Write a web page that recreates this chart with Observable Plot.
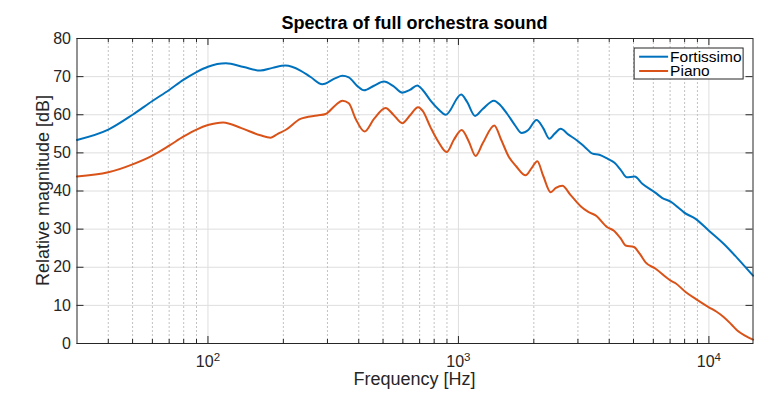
<!DOCTYPE html>
<html><head><meta charset="utf-8">
<script src="https://cdn.jsdelivr.net/npm/d3@7"></script>
<script src="https://cdn.jsdelivr.net/npm/@observablehq/plot@0.6"></script>
<style>body{margin:0;background:#fff;} #chart svg{display:block;}</style>
</head><body><div id="chart"></div>
<script>
const fortFreq = [30,40,50,60,70,80,90,100,118,139,162,181,204,234,257,286,323,344,365,395,420,460,504,550,597,640,685,720,774,830,890,1025,1080,1165,1250,1386,1470,1567,1680,1790,1900,2050,2180,2310,2420,2560,2750,2983,3200,3430,3650,3950,4200,4450,4700,5050,5422,6127,6500,7033,7500,7948,8849,10000,11478,12982,15000];
const fortDb = [53.4,56.1,60.0,63.6,66.5,69.2,71.2,72.6,73.5,72.5,71.6,72.3,72.9,71.6,69.9,68.0,69.6,70.2,69.8,67.5,66.4,67.6,68.7,67.5,65.8,66.5,67.7,66.5,63.7,61.5,60.0,65.3,63.5,59.7,61.5,63.7,62.5,60.2,57.3,55.2,56.0,58.6,56.5,53.7,55.0,56.3,54.8,53.2,51.5,49.8,49.5,48.4,47.4,45.5,43.6,43.8,41.9,39.5,38.2,37.2,35.8,34.4,32.7,29.6,26.1,22.4,17.8];
const pianoFreq = [30,40,50,60,70,80,90,100,115,136,162,178,190,204,234,273,295,323,344,365,389,422,460,512,550,597,640,690,720,774,830,897,960,1030,1100,1171,1250,1390,1480,1591,1700,1855,1960,2065,2180,2334,2450,2599,2800,3075,3300,3529,3930,4177,4451,4651,5019,5300,5588,6127,7033,7365,8073,8849,10000,10700,11478,12300,12982,14000,15000];
const pianoDb = [43.8,44.9,47.0,49.3,51.9,54.3,56.1,57.3,58.0,56.5,54.6,54.0,55.0,56.0,58.9,59.8,60.2,62.5,63.7,63.0,58.9,55.6,58.9,61.8,60.0,57.8,59.8,62.0,61.0,56.7,53.0,50.2,53.5,56.0,53.0,49.2,52.5,57.2,53.5,48.9,46.5,44.1,46.0,47.8,44.0,39.7,40.8,41.4,39.0,36.0,34.5,33.6,30.5,29.6,27.5,25.7,25.3,23.5,21.3,19.6,16.5,15.8,13.5,11.7,9.5,8.4,6.9,5.0,3.4,2.0,1.0];
const seriesNames = ["Fortissimo", "Piano"];
const seriesColors = ["#0072BD", "#D95319"];
const xMajor = [100, 1000, 10000];
const xMinor = [40,50,60,70,80,90,200,300,400,500,600,700,800,900,2000,3000,4000,5000,6000,7000,8000,9000];
const yTicks = [0,10,20,30,40,50,60,70,80];
const titleText = "Spectra of full orchestra sound";
const xLabel = "Frequency [Hz]";
const yLabel = "Relative magnitude [dB]";

const data = [
  ...fortFreq.map((f, i) => ({f, db: fortDb[i], s: seriesNames[0]})),
  ...pianoFreq.map((f, i) => ({f, db: pianoDb[i], s: seriesNames[1]}))
];

const W = 762, H = 397, mL = 76.5, mR = 9.5, mT = 38, mB = 54;
const fw = W - mL - mR, fh = H - mT - mB;
const font = "'Liberation Sans', Arial, Helvetica, sans-serif";
const axisColor = "#262626";
const sup = {"2": "\u00B2", "3": "\u00B3", "4": "\u2074"};

const plot = Plot.plot({
  width: W, height: H, marginLeft: mL, marginRight: mR, marginTop: mT, marginBottom: mB,
  style: {fontFamily: font, fontSize: "16px", color: axisColor, background: "#fff"},
  x: {type: "log", domain: [30, 15000]},
  y: {domain: [0, 80]},
  color: {domain: seriesNames, range: seriesColors},
  marks: [
    Plot.ruleY(yTicks.filter(v => v > 0 && v < 80), {stroke: "#dedede", strokeWidth: 1}),
    Plot.ruleX(xMajor, {stroke: "#dedede", strokeWidth: 1}),
    Plot.ruleX(xMinor, {stroke: "#c2c2c2", strokeWidth: 1, strokeDasharray: "2,2"}),
    Plot.tickX(xMajor, {insetTop: fh - 7, stroke: axisColor}),
    Plot.tickX(xMajor, {insetBottom: fh - 7, stroke: axisColor}),
    Plot.tickX(xMinor, {insetTop: fh - 4, stroke: axisColor}),
    Plot.tickX(xMinor, {insetBottom: fh - 4, stroke: axisColor}),
    Plot.tickY(yTicks, {insetRight: fw - 7, stroke: axisColor}),
    Plot.tickY(yTicks, {insetLeft: fw - 7, stroke: axisColor}),
    Plot.line(data, {x: "f", y: "db", z: "s", stroke: "s", strokeWidth: 2, curve: "monotone-x"}),
    Plot.frame({stroke: axisColor}),
    Plot.axisX(xMajor, {tickSize: 0, tickPadding: 12, label: null,
      tickFormat: d => "10" + sup[String(Math.round(Math.log10(d)))], fontSize: 16}),
    Plot.axisY(yTicks, {tickSize: 0, tickPadding: 6, label: null, fontSize: 16})
  ]
});

document.getElementById("chart").appendChild(plot);
const svg = d3.select(plot);

// superscript exponents as tspans
svg.selectAll('g[aria-label="x-axis tick label"] text').each(function () {
  const t = this.textContent;
  const m = t.match(/^10(.)$/);
  if (!m) return;
  const exp = Object.keys(sup).find(k => sup[k] === m[1]);
  const el = d3.select(this);
  el.text("10");
  el.append("tspan").attr("dy", "-0.5em").attr("font-size", "11.5px").text(exp);
});

// title and axis labels
svg.append("text").attr("x", mL + fw / 2).attr("y", 29).attr("text-anchor", "middle")
  .attr("font-family", font).attr("font-weight", "bold").attr("font-size", 18).attr("fill", "#000")
  .text(titleText);
svg.append("text").attr("x", mL + fw / 2).attr("y", 385).attr("text-anchor", "middle")
  .attr("font-family", font).attr("font-size", 18).attr("fill", axisColor).text(xLabel);
svg.append("text").attr("transform", `translate(48.5,${mT + fh / 2}) rotate(-90)`)
  .attr("text-anchor", "middle").attr("font-family", font).attr("font-size", 18)
  .attr("fill", axisColor).text(yLabel);

// legend
const lgW = 109, lgH = 31;
const lgX = mL + fw - 9.4 - lgW, lgY = mT + 10;
const lg = svg.append("g");
lg.append("rect").attr("x", lgX).attr("y", lgY).attr("width", lgW).attr("height", lgH)
  .attr("fill", "#fff").attr("stroke", "#262626").attr("stroke-width", 1);
seriesNames.forEach((name, i) => {
  const cy = lgY + 8.7 + 14.3 * i;
  lg.append("line").attr("x1", lgX + 5).attr("x2", lgX + 34).attr("y1", cy).attr("y2", cy)
    .attr("stroke", seriesColors[i]).attr("stroke-width", 2);
  lg.append("text").attr("x", lgX + 36).attr("y", cy + 5).attr("text-anchor", "start")
    .attr("font-family", font).attr("font-size", 15.5).attr("fill", "#000").text(name);
});
</script>
</body></html>
